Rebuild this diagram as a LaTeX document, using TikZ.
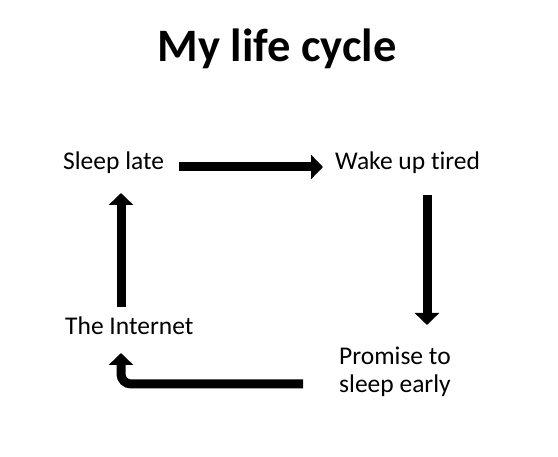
\documentclass[tikz,border=0pt]{standalone}
\usepackage{fontspec}
\setmainfont{Carlito}[Ligatures=NoCommon]
\usepackage{tikz}
\usetikzlibrary{arrows.meta}

\begin{document}
\begin{tikzpicture}[x=1pt,y=1pt,
  lbl/.style={font=\fontsize{25.5}{28}\selectfont,inner sep=0pt},
  bigarrow/.style={line width=9pt,-{Triangle[width=24pt,length=12pt]}}]
  \useasboundingbox[fill=white] (0,0) rectangle (558,457);
  \node[font=\bfseries\fontsize{46.5}{50}\selectfont,anchor=base] (title) at (277,395) {My life cycle};
  \node[lbl,anchor=base west] (late) at (63,287) {Sleep late};
  \node[lbl,anchor=base west] (tired) at (335,287) {Wake up tired};
  \node[lbl,anchor=base west] (net) at (65,122) {The Internet};
  \node[lbl,anchor=base west,align=left] (promise) at (339,64) {Promise to\\sleep early};
  % the four steps of the cycle
  \draw[bigarrow] ([xshift=15pt,yshift=3pt]late.base east) -- ([xshift=-12pt,yshift=3pt]tired.base west);
  \draw[bigarrow] ([xshift=92pt,yshift=-25pt]tired.base west) -- ([xshift=88pt,yshift=68pt]promise.base west);
  \draw[bigarrow,rounded corners=10pt] ([xshift=-36pt,yshift=9pt]promise.base west) -| ([xshift=56pt,yshift=-18pt]net.base west);
  \draw[bigarrow] ([xshift=56pt,yshift=28pt]net.base west) -- ([xshift=58pt,yshift=-23pt]late.base west);
\end{tikzpicture}
\end{document}
